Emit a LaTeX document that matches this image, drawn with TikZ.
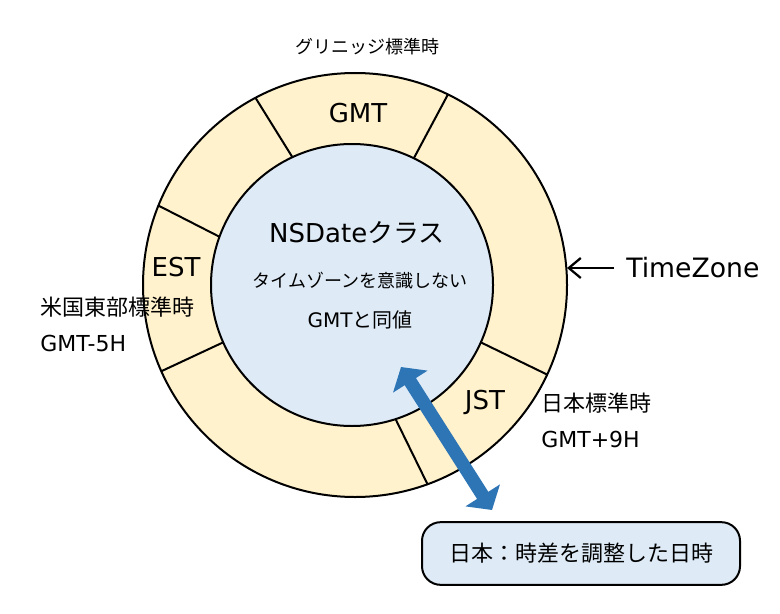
\documentclass[tikz,border=0pt]{standalone}
\usepackage{fontspec}
\setmainfont{DejaVu Sans}
\newfontfamily\jp{Noto Sans CJK JP}
\usetikzlibrary{arrows.meta}
\definecolor{ringfill}{HTML}{FFF2CC}
\definecolor{datefill}{HTML}{DEEBF7}
\definecolor{arrowblue}{HTML}{2E75B6}

\begin{document}
\begin{tikzpicture}[x=0.75pt,y=-0.75pt,
    big/.style={font=\fontsize{19.5}{23}\selectfont},
    mid/.style={font=\fontsize{16.5}{20}\selectfont},
    small/.style={font=\fontsize{13.5}{16}\selectfont},
    rim/.style={draw, line width=1.5pt, outer sep=0pt}]

      \useasboundingbox (0,0) rectangle (780,613);

      \node[circle, rim, fill=ringfill, minimum size=318pt] (zone) at (355,285) {};
      \node[circle, rim, fill=datefill, minimum size=211.5pt] (date) at (352,285) {};

      \draw[line width=1.5pt] (date.115.8) -- (zone.118.7);
      \draw[line width=1.5pt] (date.64.7) -- (zone.64.2);
      \draw[line width=1.5pt] (date.160.3) -- (zone.158);
      \draw[line width=1.5pt] (date.204.6) -- (zone.204.3);
      \draw[line width=1.5pt] (date.336) -- (zone.335.7);
      \draw[line width=1.5pt] (date.288.2) -- (zone.290.2);

      \node[small] (gmtname) at (367,47) {\jp グリニッジ標準時};
      \node[big] (gmt) at (358,113) {GMT};
      \node[big] (est) at (176,267) {EST};
      \node[big] (jst) at (485,402) {JST};

      \node[mid, anchor=west, inner sep=0pt] (estname) at (40,307) {\jp 米国東部標準時};
      \node[mid, anchor=west, inner sep=0pt] (estoffset) at (40,343) {GMT-5H};
      \node[mid, anchor=west, inner sep=0pt] (jstname) at (541,403) {\jp 日本標準時};
      \node[mid, anchor=west, inner sep=0pt] (jstoffset) at (541,439) {GMT+9H};

      \node[big] (dateclass) at (357,233) {NSDate{\jp クラス}};
      \node[small] (datenote) at (360,281) {\jp タイムゾーンを意識しない};
      \node[font=\fontsize{15}{18}\selectfont] (dategmt) at (360,320) {GMT{\jp と同値}};

      \node[font=\fontsize{20}{24}\selectfont, anchor=west, inner sep=0pt] (tz) at (626,268) {TimeZone};
      \draw[line width=1.7pt, -{Straight Barb[length=9pt,width=15pt]}] ([xshift=-9pt]tz.west) -- (tz.west -| zone.east);

      \coordinate (utcend) at (401,367);
      \coordinate (localend) at (492,510);
      \draw[arrowblue, line width=10pt, {Triangle[length=13pt,width=30pt]}-{Triangle[length=13pt,width=30pt]}] (utcend) -- (localend);

      \node[rim, fill=datefill, rounded corners=14pt, minimum width=238.5pt, minimum height=47pt, mid] (local) at (581,553.5) {\jp 日本：時差を調整した日時};

    \end{tikzpicture}
\end{document}
